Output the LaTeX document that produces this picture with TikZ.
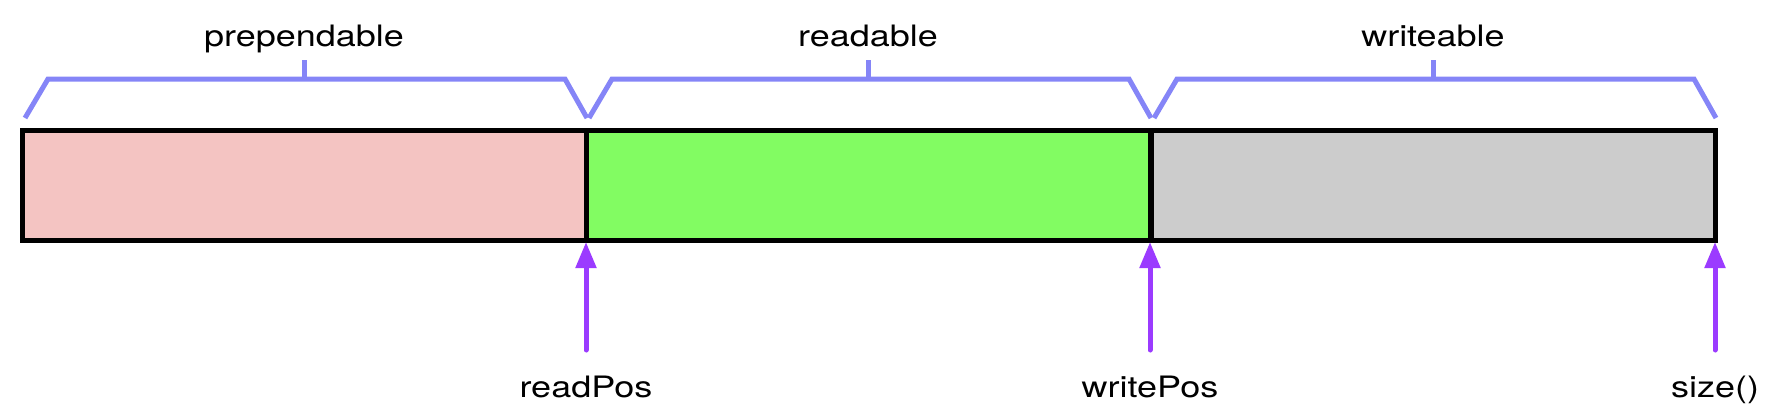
\documentclass[tikz,border=0pt]{standalone}
\usepackage{fontspec}
\setmainfont{TeX Gyre Heros}[FakeStretch=1.22]
\usetikzlibrary{arrows.meta,calc}

\definecolor{prepcol}{HTML}{F4C4C2}
\definecolor{readcol}{HTML}{82FC62}
\definecolor{writecol}{HTML}{CCCCCC}
\definecolor{bracecol}{HTML}{8585F7}
\definecolor{ptrcol}{HTML}{9B3BFF}

\tikzset{
  cell/.style={draw=black, line width=5pt, inner sep=0pt, outer sep=0pt,
    minimum width=564pt, minimum height=110pt},
  brace/.style={draw=bracecol, line width=5pt},
  pointer/.style={draw=ptrcol, line width=5pt, line cap=round,
    -{Triangle[length=26pt,width=20pt]}},
  lbl/.style={font=\fontsize{29.5}{35}\selectfont, inner sep=0pt, anchor=base}
}

\begin{document}
\begin{tikzpicture}[x=1pt, y=-1pt] % pixel coordinates, y grows downward
\useasboundingbox (0,0) rectangle (1778,410);

% the three parts of the buffer
\node[cell, fill=prepcol] (prep) at (304,185) {};
\node[cell, fill=readcol] (read) at (868,185) {};
\node[cell, fill=writecol] (write) at (1433,185) {};

% braces with their names on top
\foreach \c/\t in {prep/prependable, read/readable, write/writeable} {
  \draw[brace] ($(\c.north west)+(3,-12)$) -- ++(23,-39)
    -- ($(\c.north east)+(-21,-51)$) -- ($(\c.north east)+(1,-12)$);
  \draw[brace] ($(\c.north)+(0,-51)$) -- ++(0,-19);
  \node[lbl] (\c-name) at ($(\c.north)+(0,-84)$) {\t};
}

% pointers below
\foreach \c/\t in {prep/readPos, read/writePos, write/size()} {
  \coordinate (\c-foot) at ($(\c.south east)+(0,110)$);
  \node[lbl] (\c-ptr) at ($(\c.south east)+(0,157)$) {\t};
  \draw[pointer] (\c-foot) -- ($(\c.south east)+(0,2)$);
}
\end{tikzpicture}
\end{document}
